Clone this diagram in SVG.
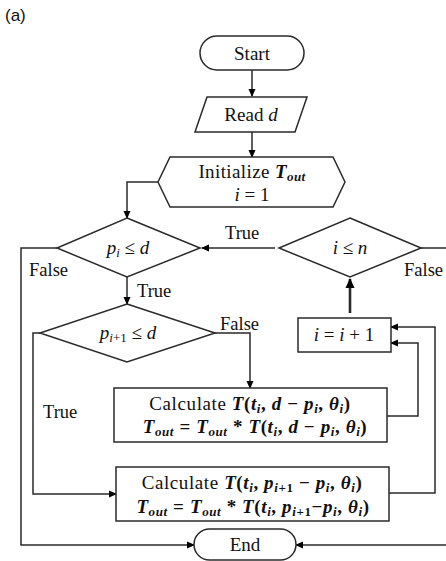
<svg xmlns="http://www.w3.org/2000/svg" width="446" height="561" viewBox="0 0 446 561">
<defs>
<marker id="ah" markerWidth="8" markerHeight="8" refX="7" refY="4" orient="auto" markerUnits="userSpaceOnUse">
<path d="M0,0.5 L8,4 L0,7.5 Z" fill="#000"/>
</marker>
<marker id="ahb" markerWidth="10" markerHeight="10" refX="9" refY="5" orient="auto" markerUnits="userSpaceOnUse">
<path d="M0,0.5 L10,5 L0,9.5 Z" fill="#000"/>
</marker>
<style>
.s{fill:#fff;stroke:#2a2a2a;stroke-width:1.5}
.t{font-family:"Liberation Serif","Times New Roman",serif;font-size:19px;fill:#111;text-anchor:middle}
.w{letter-spacing:0.6px}
.l{font-family:"Liberation Serif","Times New Roman",serif;font-size:18.5px;fill:#111}
.m{font-style:italic}
.b{font-weight:bold}
.u{font-size:13px}
.c{fill:none;stroke:#2a2a2a;stroke-width:1.5;marker-end:url(#ah)}
</style>
</defs>
<rect width="446" height="561" fill="#fff"/>
<text x="5" y="21" font-family="Liberation Sans, Arial, sans-serif" font-size="17" fill="#111">(a)</text>

<g id="connectors">
<path class="c" d="M252,70 V96"/>
<path class="c" d="M252,132 V157"/>
<path class="c" d="M158,182 H127 V218"/>
<path class="c" d="M127,277 V304"/>
<path class="c" d="M57,248 H21 V545 H194"/>
<path class="c" d="M215,333 H250 V388"/>
<path class="c" d="M40,333 H33 V494 H116"/>
<path class="c" d="M387,416 H418 V343 H391"/>
<path class="c" d="M389,493 H435 V327 H391"/>
<path d="M350,313 V279" fill="none" stroke="#2a2a2a" stroke-width="2.6" marker-end="url(#ahb)"/>
<path class="c" d="M275,248 H202"/>
<path class="c" d="M421,248 H449 V545 H296"/>
<text class="l" x="225" y="239">True</text>
<text class="l" x="29" y="276">False</text>
<text class="l" x="137" y="297">True</text>
<text class="l" x="220" y="330">False</text>
<text class="l" x="43" y="418">True</text>
<text class="l" x="404" y="276">False</text>
</g>

<g id="start">
<rect class="s" x="200" y="36" width="104" height="34" rx="17"/>
<text class="t" x="252" y="60">Start</text>
</g>

<g id="read">
<polygon class="s" points="207,97 307,97 295,132 195,132"/>
<text class="t" x="251" y="121">Read <tspan class="m">d</tspan></text>
</g>

<g id="init">
<polygon class="s" points="170,157 333,157 345,182 333,207 170,207 158,182"/>
<text class="t" x="252" y="178" letter-spacing="0.4">Initialize <tspan class="m b">T</tspan><tspan class="m b u" dy="3">out</tspan></text>
<text class="t" x="252" y="201"><tspan class="m">i</tspan> = 1</text>
</g>

<g id="cond1">
<polygon class="s" points="127,218 200,248 127,277 57,248"/>
<text class="t" x="128" y="254"><tspan class="m">p</tspan><tspan class="m u" dy="3">i</tspan><tspan dy="-3"> ≤ </tspan><tspan class="m">d</tspan></text>
</g>

<g id="cond2">
<polygon class="s" points="127,304 215,333 127,362 40,333"/>
<text class="t" x="128" y="339"><tspan class="m">p</tspan><tspan class="u" dy="3"><tspan class="m">i</tspan>+1</tspan><tspan dy="-3"> ≤ </tspan><tspan class="m">d</tspan></text>
</g>

<g id="cond3">
<polygon class="s" points="350,218 421,248 350,277 279,248"/>
<text class="t" x="350" y="254"><tspan class="m">i</tspan> ≤ <tspan class="m">n</tspan></text>
</g>

<g id="inc">
<rect class="s" x="298" y="318" width="93" height="34"/>
<text class="t" x="344" y="341"><tspan class="m">i</tspan> = <tspan class="m">i</tspan> + 1</text>
</g>

<g id="calc1">
<rect class="s" x="114" y="388" width="273" height="54"/>
<text class="t w" x="250" y="410">Calculate <tspan class="b"><tspan class="m">T</tspan>(<tspan class="m">t</tspan><tspan class="m u" dy="3">i</tspan><tspan dy="-3">,  </tspan><tspan class="m">d</tspan> − <tspan class="m">p</tspan><tspan class="m u" dy="3">i</tspan><tspan dy="-3">, </tspan><tspan class="m">θ</tspan><tspan class="m u" dy="3">i</tspan><tspan dy="-3">)</tspan></tspan></text>
<text class="t b w" x="255" y="433"><tspan class="m">T</tspan><tspan class="m u" dy="3">out</tspan><tspan dy="-3"> = </tspan><tspan class="m">T</tspan><tspan class="m u" dy="3">out</tspan><tspan dy="-3"> * </tspan><tspan class="m">T</tspan>(<tspan class="m">t</tspan><tspan class="m u" dy="3">i</tspan><tspan dy="-3">, </tspan><tspan class="m">d</tspan> − <tspan class="m">p</tspan><tspan class="m u" dy="3">i</tspan><tspan dy="-3">, </tspan><tspan class="m">θ</tspan><tspan class="m u" dy="3">i</tspan><tspan dy="-3">)</tspan></text>
</g>

<g id="calc2">
<rect class="s" x="116" y="467" width="273" height="54"/>
<text class="t w" x="252" y="489">Calculate <tspan class="b"><tspan class="m">T</tspan>(<tspan class="m">t</tspan><tspan class="m u" dy="3">i</tspan><tspan dy="-3">,  </tspan><tspan class="m">p</tspan><tspan class="u" dy="3"><tspan class="m">i</tspan>+1</tspan><tspan dy="-3"> − </tspan><tspan class="m">p</tspan><tspan class="m u" dy="3">i</tspan><tspan dy="-3">, </tspan><tspan class="m">θ</tspan><tspan class="m u" dy="3">i</tspan><tspan dy="-3">)</tspan></tspan></text>
<text class="t b w" x="253" y="513"><tspan class="m">T</tspan><tspan class="m u" dy="3">out</tspan><tspan dy="-3"> = </tspan><tspan class="m">T</tspan><tspan class="m u" dy="3">out</tspan><tspan dy="-3"> * </tspan><tspan class="m">T</tspan>(<tspan class="m">t</tspan><tspan class="m u" dy="3">i</tspan><tspan dy="-3">, </tspan><tspan class="m">p</tspan><tspan class="u" dy="3"><tspan class="m">i</tspan>+1</tspan><tspan dy="-3">−</tspan><tspan class="m">p</tspan><tspan class="m u" dy="3">i</tspan><tspan dy="-3">, </tspan><tspan class="m">θ</tspan><tspan class="m u" dy="3">i</tspan><tspan dy="-3">)</tspan></text>
</g>

<g id="end">
<rect class="s" x="194" y="529" width="102" height="31" rx="15.5"/>
<text class="t" x="245" y="551">End</text>
</g>
</svg>
